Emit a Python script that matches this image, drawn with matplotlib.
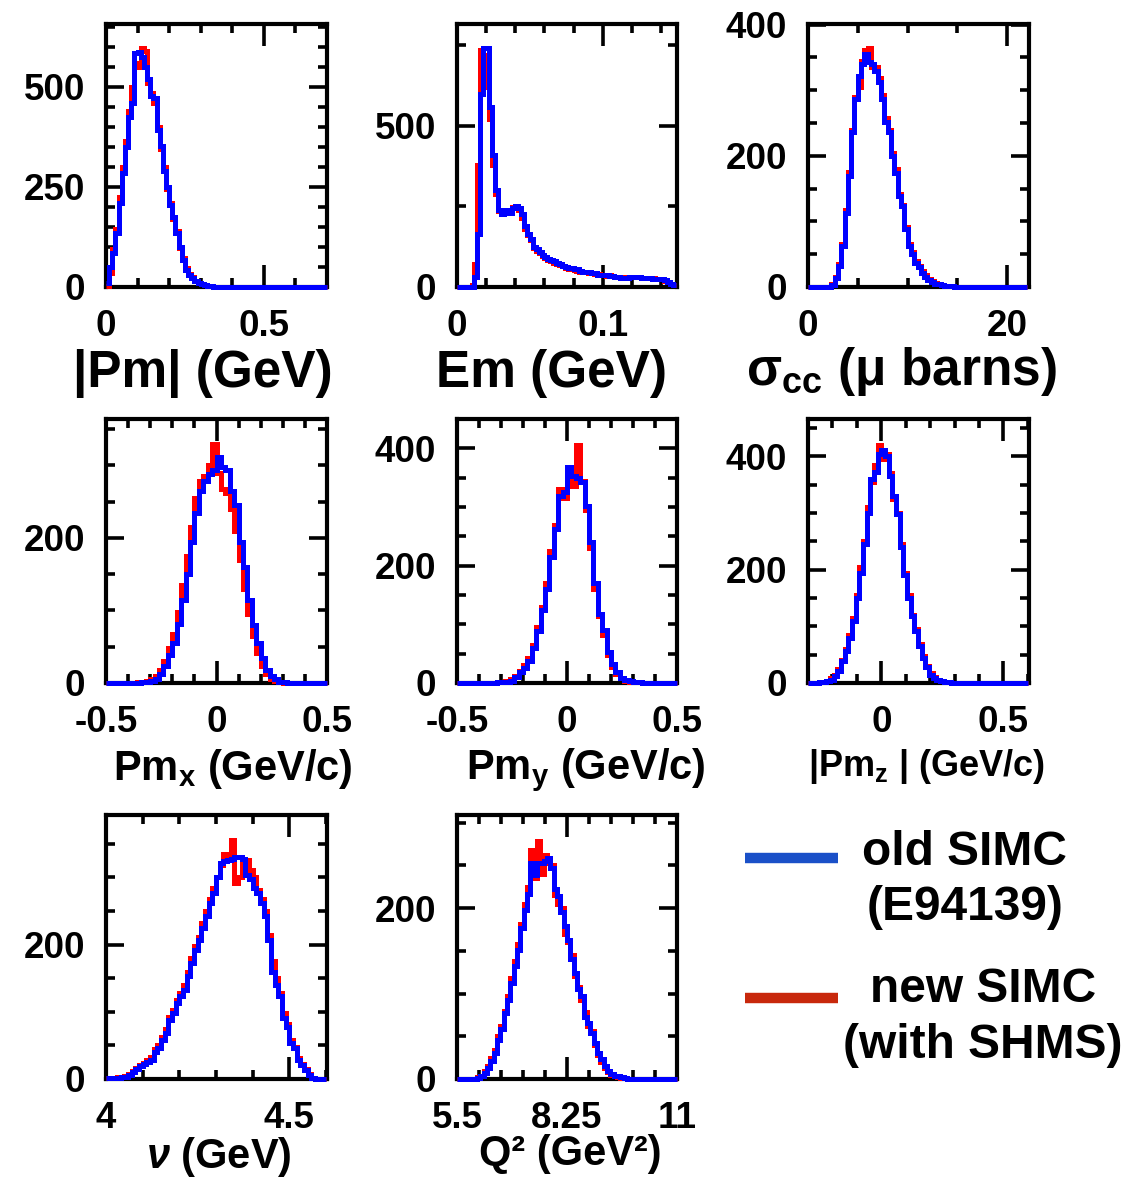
import numpy as np
import matplotlib
matplotlib.use('Agg')
import matplotlib.pyplot as plt
from matplotlib.ticker import MultipleLocator

plt.rcParams['font.family'] = ['Liberation Sans', 'DejaVu Sans']
plt.rcParams['font.weight'] = 'bold'
plt.rcParams['mathtext.fontset'] = 'custom'
plt.rcParams['mathtext.rm'] = 'Liberation Sans:bold'
plt.rcParams['mathtext.bf'] = 'Liberation Sans:bold'
plt.rcParams['mathtext.it'] = 'Liberation Sans:bold:italic'

# ---------------- data (bin contents) ----------------
# |Pm| : 0.01 GeV bins starting at 0
pm_old = [10, 50, 85, 135, 210, 285, 350, 425, 460, 585, 588, 575, 550, 520, 477, 472,
          393, 352, 290, 250, 206, 175, 135, 100, 68, 43, 31, 22, 15, 10, 7, 5, 3, 2, 1, 1] + [0] * 34
pm_new = [3, 35, 95, 145, 225, 300, 365, 440, 500, 560, 550, 598, 590, 510, 485, 460,
          400, 345, 300, 245, 210, 170, 140, 98, 72, 48, 33, 24, 16, 11, 8, 5, 3, 2, 1, 0] + [0] * 34

# Em : 0.002 GeV bins starting at 0
em_old = [0, 0, 0, 0, 0, 0, 30, 165, 600, 740, 740, 560, 410, 300, 240, 225, 240, 235, 230, 245,
          250, 245, 225, 190, 165, 150, 125, 118, 110, 98, 92, 88, 84, 80, 75, 70, 66, 62, 60, 58,
          56, 55, 50, 48, 47, 45, 44, 42, 38, 37, 36, 36, 34, 33, 31, 30, 29, 28, 28, 30,
          31, 30, 30, 29, 28, 27, 27, 26, 25, 24, 24, 22, 14, 10, 6]
em_new = [0, 0, 0, 0, 0, 5, 70, 380, 735, 620, 720, 520, 380, 290, 235, 228, 235, 232, 240, 248,
          245, 240, 215, 180, 160, 145, 122, 112, 105, 95, 90, 85, 80, 76, 72, 68, 64, 60, 56, 55,
          54, 50, 48, 46, 45, 44, 42, 40, 39, 38, 37, 35, 36, 34, 32, 30, 30, 29, 30, 31,
          32, 31, 30, 29, 28, 28, 27, 27, 26, 25, 24, 20, 15, 10, 6]

# sigma_cc : 1/3 micro-barn bins starting at 0
sig_old = [0] * 7 + [3, 14, 32, 62, 113, 169, 236, 287, 322, 340, 356, 343, 340, 330, 312, 287,
                     251, 236, 200, 174, 139, 123, 88, 62, 50, 37, 30, 22, 16, 11, 8, 5, 4, 3,
                     2, 1, 1] + [0] * 22
sig_new = [0] * 7 + [4, 16, 35, 65, 118, 175, 240, 290, 305, 345, 362, 365, 335, 335, 318, 292,
                     258, 240, 205, 180, 142, 125, 92, 66, 54, 40, 32, 24, 18, 12, 9, 6, 4, 3,
                     2, 1, 1] + [0] * 22

# Pm_x : 0.02 GeV/c bins starting at -0.5
pmx_old = [0] * 8 + [1, 2, 3, 6, 12, 24, 38, 55, 82, 115, 150, 195, 235, 265, 278, 288, 294, 312,
                     298, 294, 265, 245, 195, 160, 115, 80, 55, 34, 18, 10, 5, 2, 1] + [0] * 9
pmx_new = [0] * 7 + [1, 2, 3, 5, 9, 18, 30, 48, 68, 98, 135, 175, 215, 255, 278, 285, 300, 330,
                     290, 268, 262, 240, 210, 170, 130, 95, 65, 42, 24, 12, 6, 3, 1] + [0] * 10

# Pm_y : 0.02 GeV/c bins starting at -0.5
pmy_old = [0] * 9 + [1, 1, 2, 4, 10, 18, 26, 38, 60, 88, 125, 160, 215, 262, 318, 325, 368, 352,
                     350, 342, 302, 240, 170, 118, 90, 52, 32, 18, 9, 5, 3, 2, 1] + [0] * 8
pmy_new = [0] * 9 + [1, 2, 3, 6, 12, 20, 30, 42, 65, 95, 130, 170, 225, 270, 330, 315, 355, 335,
                     405, 345, 295, 230, 160, 115, 82, 48, 28, 15, 8, 4, 2, 1, 1] + [0] * 8

# |Pm_z| : 0.015 GeV/c bins starting at -0.3
pmz_old = [0, 0, 0, 1, 2, 3, 6, 12, 22, 38, 56, 80, 110, 150, 195, 245, 300, 360, 372, 405,
           412, 400, 365, 330, 298, 240, 190, 150, 118, 92, 65, 45, 28, 15, 9, 6, 4, 2, 1] + [0] * 21
pmz_new = [0, 0, 0, 1, 2, 4, 8, 14, 25, 40, 60, 85, 115, 155, 205, 250, 310, 355, 385, 420,
           395, 405, 370, 325, 300, 245, 195, 155, 120, 95, 68, 48, 30, 17, 10, 6, 4, 2, 1] + [0] * 21

# nu : 0.01 GeV bins starting at 4.0
nu_old = [1, 1, 2, 2, 3, 3, 6, 10, 15, 19, 22, 25, 29, 40, 46, 58, 68, 88, 98, 113,
          123, 133, 153, 173, 192, 207, 225, 242, 262, 277, 300, 322, 324, 326, 328, 330, 331, 327, 304, 297,
          285, 277, 262, 242, 207, 160, 140, 123, 91, 78, 54, 46, 29, 21, 14, 6, 1, 0, 0, 0]
nu_new = [1, 1, 2, 3, 3, 4, 7, 12, 17, 21, 24, 28, 33, 44, 50, 62, 75, 92, 102, 118,
          128, 140, 160, 180, 198, 212, 232, 250, 268, 285, 300, 318, 335, 330, 356, 292, 300, 326, 326, 311,
          300, 282, 268, 250, 215, 175, 150, 128, 98, 82, 58, 48, 32, 22, 15, 7, 2, 0, 0, 0]

# Q^2 : 1/12 GeV^2 bins starting at 5.5
q2_old = [0] * 6 + [1, 3, 7, 13, 21, 30, 46, 58, 77, 93, 112, 132, 151, 177, 198, 216, 253, 239, 253, 253,
                    255, 259, 247, 222, 214, 196, 179, 163, 140, 124, 105, 97, 73, 66, 54, 42, 30, 23, 15, 9,
                    6, 4, 3, 2, 1] + [0] * 15
q2_new = [0] * 6 + [2, 4, 9, 15, 24, 34, 50, 62, 80, 97, 118, 138, 158, 182, 205, 225, 268, 235, 278, 240,
                    262, 253, 250, 215, 205, 200, 170, 160, 145, 120, 108, 92, 78, 62, 56, 40, 28, 20, 13, 8,
                    5, 3, 2, 1, 1] + [0] * 15

legend_labels = ["old SIMC\n(E94139)", "new SIMC\n(with SHMS)"]

# ---------------- layout ----------------
W, H = 1134, 1180
fig = plt.figure(figsize=(W / 100, H / 100), dpi=100)

cols = [(106, 327), (457, 677), (808, 1029)]
rows = [(24, 287), (419, 683), (815, 1079)]


def add_axes(c, r):
    x0, x1 = cols[c]
    y0, y1 = rows[r]
    return fig.add_axes([x0 / W, 1 - y1 / H, (x1 - x0) / W, (y1 - y0) / H])


panels = [
    dict(c=0, r=0, old=pm_old, new=pm_new, lo=0.0, bw=0.01, xlim=(0, 0.7), ylim=(0, 657),
         xt=[0, 0.5], xl=['0', '0.5'], xm=0.1, yt=[0, 250, 500], ym=50,
         lab='|Pm| (GeV)', lx=203, ly=373, fs=37),
    dict(c=1, r=0, old=em_old, new=em_new, lo=0.0, bw=0.002, xlim=(0, 0.151), ylim=(0, 816),
         xt=[0, 0.1], xl=['0', '0.1'], xm=0.02, yt=[0, 500], ym=250,
         lab='Em (GeV)', lx=552, ly=374, fs=37),
    dict(c=2, r=0, old=sig_old, new=sig_new, lo=0.0, bw=1 / 3, xlim=(0, 22.2), ylim=(0, 401),
         xt=[0, 20], xl=['0', '20'], xm=5, yt=[0, 200, 400], ym=50,
         lab='σ$_\\mathbf{cc}$ (μ barns)', lx=901, ly=371, fs=37),
    dict(c=0, r=1, old=pmx_old, new=pmx_new, lo=-0.5, bw=0.02, xlim=(-0.5, 0.5), ylim=(0, 364),
         xt=[-0.5, 0, 0.5], xl=['-0.5', '0', '0.5'], xm=0.1, yt=[0, 200], ym=50,
         lab='Pm$_\\mathbf{x}$ (GeV/c)', lx=233, ly=769, fs=30),
    dict(c=1, r=1, old=pmy_old, new=pmy_new, lo=-0.5, bw=0.02, xlim=(-0.5, 0.5), ylim=(0, 450),
         xt=[-0.5, 0, 0.5], xl=['-0.5', '0', '0.5'], xm=0.1, yt=[0, 200, 400], ym=50,
         lab='Pm$_\\mathbf{y}$ (GeV/c)', lx=586, ly=770, fs=30),
    dict(c=2, r=1, old=pmz_old, new=pmz_new, lo=-0.3, bw=0.015, xlim=(-0.3, 0.605), ylim=(0, 466),
         xt=[0, 0.5], xl=['0', '0.5'], xm=0.1, yt=[0, 200, 400], ym=50,
         lab='|Pm$_\\mathbf{z}$ | (GeV/c)', lx=927, ly=766, fs=26),
    dict(c=0, r=2, old=nu_old, new=nu_new, lo=4.0, bw=0.01, xlim=(4.0, 4.603), ylim=(0, 393),
         xt=[4, 4.5], xl=['4', '4.5'], xm=0.1, yt=[0, 200], ym=50,
         lab='$\\mathit{ν}$ (GeV)', lx=219, ly=1157, fs=30),
    dict(c=1, r=2, old=q2_old, new=q2_new, lo=5.5, bw=1 / 12, xlim=(5.5, 11), ylim=(0, 309),
         xt=[5.5, 8.25, 11], xl=['5.5', '8.25', '11'], xm=0.55, yt=[0, 200], ym=50,
         lab='Q² (GeV²)', lx=570, ly=1154, fs=30),
]

for p in panels:
    ax = add_axes(p['c'], p['r'])
    edges = p['lo'] + p['bw'] * np.arange(len(p['old']) + 1)
    ax.stairs(p['new'], edges, color='#ff0000', lw=3.6, zorder=3, clip_on=False, baseline=None)
    ax.stairs(p['old'], edges, color='#0000ff', lw=3.6, zorder=4, clip_on=False, baseline=None)
    ax.set_xlim(*p['xlim'])
    ax.set_ylim(*p['ylim'])
    ax.set_xticks(p['xt'], p['xl'])
    ax.set_yticks(p['yt'], [str(v) for v in p['yt']])
    ax.xaxis.set_minor_locator(MultipleLocator(p['xm']))
    ax.yaxis.set_minor_locator(MultipleLocator(p['ym']))
    ax.tick_params(which='both', direction='in', top=True, right=True, width=2.6,
                   labelsize=26.5, colors='black')
    ax.tick_params(axis='x', which='major', length=16, pad=16)
    ax.tick_params(axis='y', which='major', length=13, pad=15)
    ax.tick_params(which='minor', length=6.5)
    for s in ax.spines.values():
        s.set_linewidth(3.0)
    for t in ax.get_xticklabels() + ax.get_yticklabels():
        t.set_fontweight('bold')
    fig.text(p['lx'] / W, 1 - p['ly'] / H, p['lab'], ha='center', va='center',
             fontsize=p['fs'], fontweight='bold')

# ---------------- legend ----------------
leg_colors = ['#1a50c8', '#c8280c']
leg_y = [858, 998]
txt_pos = [((964, 865), (965, 920)), ((983, 1002), (983, 1058))]
for lab, col, yy, tp in zip(legend_labels, leg_colors, leg_y, txt_pos):
    fig.add_artist(plt.Line2D([745 / W, 838 / W], [1 - yy / H, 1 - yy / H],
                              color=col, lw=7.5, solid_capstyle='butt'))
    l1, l2 = lab.split('\n')
    fig.text(tp[0][0] / W, 1 - tp[0][1] / H, l1, ha='center', va='baseline',
             fontsize=34.5, fontweight='bold')
    fig.text(tp[1][0] / W, 1 - tp[1][1] / H, l2, ha='center', va='baseline',
             fontsize=34.5, fontweight='bold')

fig.savefig('out.png', dpi=100)
